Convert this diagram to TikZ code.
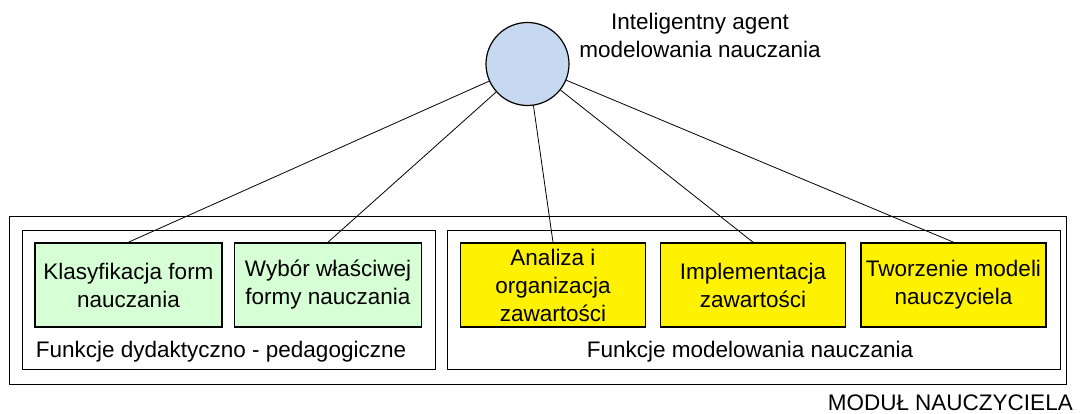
\documentclass[tikz,border=0pt]{standalone}
\usepackage{fontspec}
\setmainfont{Liberation Sans}
\usepackage{tikz}
\usetikzlibrary{positioning}

\definecolor{agentblue}{RGB}{198,217,240}
\definecolor{palegreen}{RGB}{214,255,214}

\begin{document}
\begin{tikzpicture}[x=1pt, y=-1pt, font=\fontsize{22.5}{28}\selectfont,
  funbox/.style={draw, line width=1.6pt, minimum height=84pt, align=center, inner sep=1pt},
  didbox/.style={funbox, fill=palegreen, minimum width=187pt},
  modbox/.style={funbox, fill=yellow, minimum width=185pt},
  groupbox/.style={draw, line width=0.8pt, inner sep=0pt}]
  \useasboundingbox (0,0) rectangle (1080,414);
  % containers
  \node[groupbox, minimum width=1057pt, minimum height=168pt] (modul) at (537.5,300) {};
  \node[groupbox, minimum width=413pt, minimum height=139pt] (didgroup) at (228.5,299.5) {};
  \node[groupbox, minimum width=613pt, minimum height=139pt] (modgroup) at (753.5,299.5) {};
  \node[anchor=base east, inner sep=0pt] (modullabel) at (1073,410.5) {MODUŁ NAUCZYCIELA};
  \node[anchor=base, inner sep=0pt] (didlabel) at (221,357) {Funkcje dydaktyczno - pedagogiczne};
  \node[anchor=base, inner sep=0pt] (modlabel) at (750,357) {Funkcje modelowania nauczania};
  % function boxes
  \node[didbox] (klas) at (128.5,285) {Klasyfikacja form\\nauczania};
  \node[didbox] (wybor) at (328,285) {Wybór właściwej\\formy nauczania};
  \node[modbox] (analiza) at (553,285) {Analiza i\\organizacja\\zawartości};
  \node[modbox] (impl) at (753,285) {Implementacja\\zawartości};
  \node[modbox] (tworz) at (953.5,285) {Tworzenie modeli\\nauczyciela};
  % agent
  \node[circle, draw, line width=1.2pt, fill=agentblue, minimum size=83pt, inner sep=0pt] (agent) at (527.5,64) {};
  \node[align=center, inner sep=0pt] (agentlabel) at (700,35) {Inteligentny agent\\modelowania nauczania};
  \foreach \b in {klas,wybor,analiza,impl,tworz}
    \draw[line width=0.8pt] (agent) -- (\b.north);
\end{tikzpicture}
\end{document}
